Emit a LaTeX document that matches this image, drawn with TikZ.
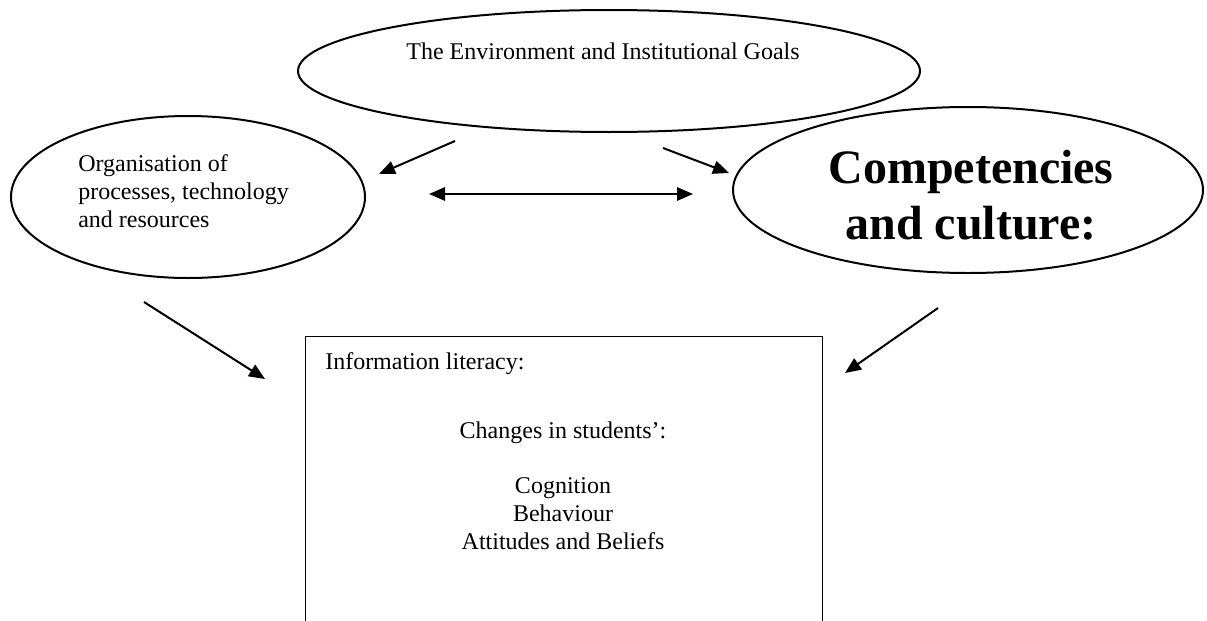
\documentclass[tikz,border=0pt]{standalone}
\usepackage{fontspec}
\setmainfont{Liberation Serif}
\usetikzlibrary{shapes.geometric}
\usetikzlibrary{arrows.meta}

\begin{document}
\begin{tikzpicture}[x=0.75pt,y=-0.75pt,
		oval/.style={ellipse,draw=black,line width=1.5pt,inner sep=0pt},
		litbox/.style={rectangle,draw=black,line width=1.1pt,inner sep=0pt,anchor=north west},
		txt/.style={inner sep=0pt,font=\fontsize{18}{21}\selectfont},
		bigtxt/.style={inner sep=0pt,align=center,font=\fontsize{36}{42}\selectfont\bfseries},
		link/.style={line width=1.5pt,-{Triangle[length=12pt,width=10pt]}}]
		\useasboundingbox (0,0) rectangle (1207,621);
		\clip (0,0) rectangle (1207,621);
		% ovals and box
		\node[oval,minimum width=466.5pt,minimum height=91.5pt] (env) at (609,71) {};
		\node[oval,minimum width=265.5pt,minimum height=121.5pt] (org) at (188,197) {};
		\node[oval,minimum width=352.5pt,minimum height=124.5pt] (comp) at (968,190) {};
		\node[litbox,minimum width=387.75pt,minimum height=240pt] (lit) at (305,336) {};
		% texts
		\node[txt,anchor=base] (envtxt) at (603,59) {The Environment and Institutional Goals};
		\node[txt,anchor=north west,align=left] (orgtxt) at (78,154) {Organisation of\\processes, technology\\and resources};
		\node[bigtxt,anchor=north] (comptxt) at (971,150) {Competencies\\and culture:};
		\node[txt,anchor=base west] (littxt) at (325,369) {Information literacy:};
		\node[txt,anchor=base] (chgtxt) at (563,438) {Changes in students’:};
		\node[txt,anchor=north,align=center] (listtxt) at (563,477) {Cognition\\Behaviour\\Attitudes and Beliefs};
		% arrow ends
		\coordinate (envl) at (455,141);
		\coordinate (orgr) at (379,174);
		\coordinate (envr) at (663,148);
		\coordinate (compl) at (729,173);
		\coordinate (midl) at (429,194);
		\coordinate (midr) at (693,194);
		\coordinate (orgb) at (144,302);
		\coordinate (litl) at (265,379);
		\coordinate (compb) at (938,308);
		\coordinate (litr) at (845,373);
		\draw[link] (envl) -- (orgr);
		\draw[link] (envr) -- (compl);
		\draw[link,{Triangle[length=12pt,width=10pt]}-{Triangle[length=12pt,width=10pt]}] (midl) -- (midr);
		\draw[link] (orgb) -- (litl);
		\draw[link] (compb) -- (litr);
	\end{tikzpicture}
\end{document}
